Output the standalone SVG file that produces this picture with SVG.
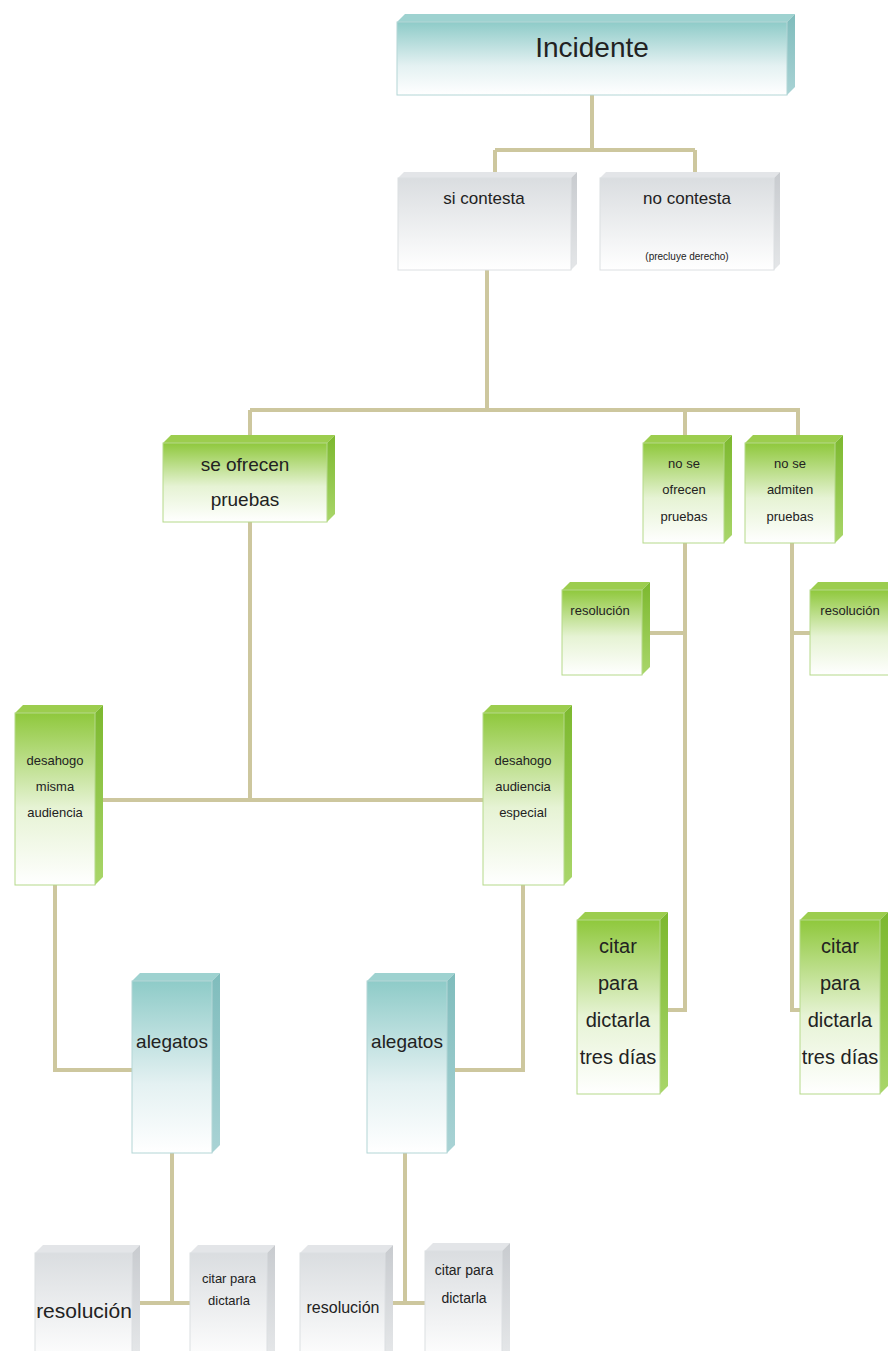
<svg xmlns="http://www.w3.org/2000/svg" width="888" height="1351" viewBox="0 0 888 1351">
<defs>
<linearGradient id="gGreen" x1="0" y1="0" x2="0" y2="1"><stop offset="0" stop-color="#8fc83c"/><stop offset="0.55" stop-color="#e6f3d4"/><stop offset="1" stop-color="#ffffff"/></linearGradient>
<linearGradient id="gTeal" x1="0" y1="0" x2="0" y2="1"><stop offset="0" stop-color="#8ecbc8"/><stop offset="0.6" stop-color="#e4f1f2"/><stop offset="1" stop-color="#ffffff"/></linearGradient>
<linearGradient id="gGray" x1="0" y1="0" x2="0" y2="1"><stop offset="0" stop-color="#dadde0"/><stop offset="1" stop-color="#ffffff"/></linearGradient>
<linearGradient id="sGreen" x1="0" y1="0" x2="0" y2="1"><stop offset="0" stop-color="#7cb82e"/><stop offset="1" stop-color="#a9d66a"/></linearGradient>
<linearGradient id="sTeal" x1="0" y1="0" x2="0" y2="1"><stop offset="0" stop-color="#7fbcbc"/><stop offset="1" stop-color="#a9d3d5"/></linearGradient>
<linearGradient id="sGray" x1="0" y1="0" x2="0" y2="1"><stop offset="0" stop-color="#c8cbcf"/><stop offset="1" stop-color="#e4e6e8"/></linearGradient>
</defs>
<style>
.fg{fill:url(#gGreen);stroke:#b5d98a;stroke-width:1}
.ft{fill:url(#gTeal);stroke:#b3d6d6;stroke-width:1}
.fy{fill:url(#gGray);stroke:#dcdfe2;stroke-width:1}
.tg{fill:#9ccd4e}.rg{fill:url(#sGreen)}
.tt{fill:#9ed2d0}.rt{fill:url(#sTeal)}
.ty{fill:#e3e5e8}.ry{fill:url(#sGray)}
.lbl{font-family:"Liberation Sans",Arial,sans-serif;fill:#222;text-anchor:middle}
.con{fill:none;stroke:#cdc79e;stroke-width:4}
</style>
<g id="connectors">
<path class="con" d="M592,95 V150 M495,150 H695 M495,150 V172 M695,150 V172"/>
<path class="con" d="M487,270 V410 M250,410 H800 M250,410 V435 M685,410 V435 M798,410 V435"/>
<path class="con" d="M250,522 V800 M103,800 H483"/>
<path class="con" d="M685,543 V1010 H668 M650,633 H685"/>
<path class="con" d="M792,543 V1010 H800 M792,633 H810"/>
<path class="con" d="M55,885 V1070 H132 M523,885 V1070 H455"/>
<path class="con" d="M172,1153 V1303 M140,1303 H190 M405,1153 V1303 M393,1303 H425"/>
</g>
<g id="incidente">
<polygon class="tt" points="397,22 405,14 795,14 787,22"/>
<polygon class="rt" points="787,22 795,14 795,87 787,95"/>
<rect class="ft" x="397" y="22" width="390" height="73"/>
<text class="lbl" x="592" y="57" font-size="28">Incidente</text>
</g>
<g id="si-contesta">
<polygon class="ty" points="398,178 404,172 577,172 571,178"/>
<polygon class="ry" points="571,178 577,172 577,264 571,270"/>
<rect class="fy" x="398" y="178" width="173" height="92"/>
<text class="lbl" x="484" y="204" font-size="17">si contesta</text>
</g>
<g id="no-contesta">
<polygon class="ty" points="600,178 606,172 780,172 774,178"/>
<polygon class="ry" points="774,178 780,172 780,264 774,270"/>
<rect class="fy" x="600" y="178" width="174" height="92"/>
<text class="lbl" x="687" y="204" font-size="17">no contesta</text>
<text class="lbl" x="687" y="260" font-size="10">(precluye derecho)</text>
</g>
<g id="se-ofrecen">
<polygon class="tg" points="163,443 171,435 335,435 327,443"/>
<polygon class="rg" points="327,443 335,435 335,514 327,522"/>
<rect class="fg" x="163" y="443" width="164" height="79"/>
<text class="lbl" x="245" y="471" font-size="19">se ofrecen</text>
<text class="lbl" x="245" y="506" font-size="19">pruebas</text>
</g>
<g id="no-se-ofrecen">
<polygon class="tg" points="643,443 651,435 732,435 724,443"/>
<polygon class="rg" points="724,443 732,435 732,535 724,543"/>
<rect class="fg" x="643" y="443" width="81" height="100"/>
<text class="lbl" x="684" y="468" font-size="13">no se</text>
<text class="lbl" x="684" y="494" font-size="13">ofrecen</text>
<text class="lbl" x="684" y="521" font-size="13">pruebas</text>
</g>
<g id="no-se-admiten">
<polygon class="tg" points="745,443 753,435 843,435 835,443"/>
<polygon class="rg" points="835,443 843,435 843,535 835,543"/>
<rect class="fg" x="745" y="443" width="90" height="100"/>
<text class="lbl" x="790" y="468" font-size="13">no se</text>
<text class="lbl" x="790" y="494" font-size="13">admiten</text>
<text class="lbl" x="790" y="521" font-size="13">pruebas</text>
</g>
<g id="resolucion-1">
<polygon class="tg" points="562,590 570,582 650,582 642,590"/>
<polygon class="rg" points="642,590 650,582 650,667 642,675"/>
<rect class="fg" x="562" y="590" width="80" height="85"/>
<text class="lbl" x="600" y="615" font-size="13">resolución</text>
</g>
<g id="resolucion-2">
<polygon class="tg" points="810,590 818,582 896,582 888,590"/>
<rect class="fg" x="810" y="590" width="80" height="85"/>
<text class="lbl" x="850" y="615" font-size="13">resolución</text>
</g>
<g id="desahogo-misma">
<polygon class="tg" points="15,713 23,705 103,705 95,713"/>
<polygon class="rg" points="95,713 103,705 103,877 95,885"/>
<rect class="fg" x="15" y="713" width="80" height="172"/>
<text class="lbl" x="55" y="765" font-size="13">desahogo</text>
<text class="lbl" x="55" y="791" font-size="13">misma</text>
<text class="lbl" x="55" y="817" font-size="13">audiencia</text>
</g>
<g id="desahogo-especial">
<polygon class="tg" points="483,713 491,705 572,705 564,713"/>
<polygon class="rg" points="564,713 572,705 572,877 564,885"/>
<rect class="fg" x="483" y="713" width="81" height="172"/>
<text class="lbl" x="523" y="765" font-size="13">desahogo</text>
<text class="lbl" x="523" y="791" font-size="13">audiencia</text>
<text class="lbl" x="523" y="817" font-size="13">especial</text>
</g>
<g id="citar-1">
<polygon class="tg" points="577,920 585,912 668,912 660,920"/>
<polygon class="rg" points="660,920 668,912 668,1086 660,1094"/>
<rect class="fg" x="577" y="920" width="83" height="174"/>
<text class="lbl" x="618" y="953" font-size="20">citar</text>
<text class="lbl" x="618" y="990" font-size="20">para</text>
<text class="lbl" x="618" y="1027" font-size="20">dictarla</text>
<text class="lbl" x="618" y="1064" font-size="20">tres días</text>
</g>
<g id="citar-2">
<polygon class="tg" points="800,920 808,912 888,912 880,920"/>
<polygon class="rg" points="880,920 888,912 888,1086 880,1094"/>
<rect class="fg" x="800" y="920" width="80" height="174"/>
<text class="lbl" x="840" y="953" font-size="20">citar</text>
<text class="lbl" x="840" y="990" font-size="20">para</text>
<text class="lbl" x="840" y="1027" font-size="20">dictarla</text>
<text class="lbl" x="840" y="1064" font-size="20">tres días</text>
</g>
<g id="alegatos-1">
<polygon class="tt" points="132,981 140,973 220,973 212,981"/>
<polygon class="rt" points="212,981 220,973 220,1145 212,1153"/>
<rect class="ft" x="132" y="981" width="80" height="172"/>
<text class="lbl" x="172" y="1048" font-size="19">alegatos</text>
</g>
<g id="alegatos-2">
<polygon class="tt" points="367,981 375,973 455,973 447,981"/>
<polygon class="rt" points="447,981 455,973 455,1145 447,1153"/>
<rect class="ft" x="367" y="981" width="80" height="172"/>
<text class="lbl" x="407" y="1048" font-size="19">alegatos</text>
</g>
<g id="resolucion-3">
<polygon class="ty" points="35,1253 43,1245 140,1245 132,1253"/>
<polygon class="ry" points="132,1253 140,1245 140,1351 132,1351"/>
<rect class="fy" x="35" y="1253" width="97" height="110"/>
<text class="lbl" x="84" y="1318" font-size="21">resolución</text>
</g>
<g id="citar-3">
<polygon class="ty" points="190,1253 198,1245 275,1245 267,1253"/>
<polygon class="ry" points="267,1253 275,1245 275,1351 267,1351"/>
<rect class="fy" x="190" y="1253" width="77" height="110"/>
<text class="lbl" x="229" y="1283" font-size="13">citar para</text>
<text class="lbl" x="229" y="1305" font-size="13">dictarla</text>
</g>
<g id="resolucion-4">
<polygon class="ty" points="300,1253 308,1245 393,1245 385,1253"/>
<polygon class="ry" points="385,1253 393,1245 393,1351 385,1351"/>
<rect class="fy" x="300" y="1253" width="85" height="110"/>
<text class="lbl" x="343" y="1313" font-size="16">resolución</text>
</g>
<g id="citar-4">
<polygon class="ty" points="425,1251 433,1243 510,1243 502,1251"/>
<polygon class="ry" points="502,1251 510,1243 510,1351 502,1351"/>
<rect class="fy" x="425" y="1251" width="77" height="110"/>
<text class="lbl" x="464" y="1275" font-size="14">citar para</text>
<text class="lbl" x="464" y="1303" font-size="14">dictarla</text>
</g>
</svg>
